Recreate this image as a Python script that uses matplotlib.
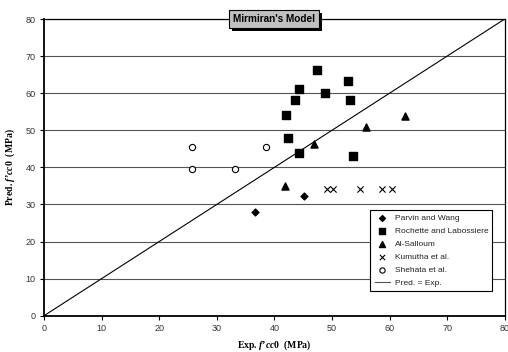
import numpy as np
import matplotlib.pyplot as plt
import matplotlib.patheffects as pe

plt.rcParams['font.family'] = ['Liberation Sans', 'DejaVu Sans']
plt.rcParams['mathtext.fontset'] = 'custom'
plt.rcParams['mathtext.it'] = 'Liberation Serif:italic:bold'
plt.rcParams['mathtext.rm'] = 'Liberation Serif:bold'

# dados (Exp., Pred.)
parvin_x = [36.6, 45.2]
parvin_y = [28.0, 32.3]

rochette_x = [47.4, 52.8, 44.3, 48.8, 43.6, 53.2, 42.0, 42.4, 44.3, 53.7]
rochette_y = [66.2, 63.3, 61.0, 60.0, 58.1, 58.1, 54.1, 47.9, 43.9, 43.0]

salloum_x = [41.8, 46.8, 55.9, 62.6]
salloum_y = [35.1, 46.3, 50.9, 53.8]

kumutha_x = [49.2, 50.1, 54.9, 58.7, 60.4]
kumutha_y = [34.2, 34.2, 34.2, 34.2, 34.2]

shehata_x = [25.7, 25.7, 33.2, 38.5]
shehata_y = [45.4, 39.5, 39.5, 45.5]

linha = [0, 80]

fig = plt.figure(figsize=(5.08, 3.52), dpi=100)
ax = fig.add_axes([0.0866, 0.103, 0.907, 0.843])

ax.scatter(parvin_x, parvin_y, marker='D', s=12, c='black', label='Parvin and Wang', zorder=3)
ax.scatter(rochette_x, rochette_y, marker='s', s=26, c='black', label='Rochette and Labossiere', zorder=3)
ax.scatter(salloum_x, salloum_y, marker='^', s=26, c='black', label='Al-Salloum', zorder=3)
ax.scatter(kumutha_x, kumutha_y, marker='x', s=20, c='black', linewidths=0.8, label='Kumutha et al.', zorder=3)
ax.scatter(shehata_x, shehata_y, marker='o', s=20, facecolors='white', edgecolors='black',
           linewidths=0.8, label='Shehata et al.', zorder=3)
ax.plot(linha, linha, color='black', lw=0.8, label='Pred. = Exp.', zorder=2)

ax.set_xlim(0, 80)
ax.set_ylim(0, 80)
ax.set_xticks(np.arange(0, 81, 10))
ax.set_yticks(np.arange(0, 81, 10))
ax.yaxis.grid(True, color='#555555', lw=0.8)
ax.set_axisbelow(True)
ax.tick_params(labelsize=6.5, labelcolor='#333333', length=3, width=0.8, direction='out', pad=3)

for lado in ['left', 'bottom']:
    ax.spines[lado].set_linewidth(1.3)
for lado in ['top', 'right']:
    ax.spines[lado].set_linewidth(0.9)

ax.set_xlabel("Exp. $\\mathit{f\u2019cc0}$  (MPa)", fontfamily='Liberation Serif',
              fontweight='bold', fontsize=7, labelpad=4)
ax.set_ylabel("Pred. $\\mathit{f\u2019cc0}$  (MPa)", fontfamily='Liberation Serif',
              fontweight='bold', fontsize=7, labelpad=6)

# caixa do titulo com sombra
titulo = ax.text(0.5, 1.0, "Mirmiran's Model", transform=ax.transAxes, ha='center', va='center',
                 fontsize=7.2, fontweight='bold', zorder=5,
                 bbox=dict(boxstyle='square,pad=0.4', lw=0.8, facecolor='#c0c0c0', edgecolor='black'))
titulo.get_bbox_patch().set_path_effects([
    pe.SimplePatchShadow(offset=(1.8, -1.8), shadow_rgbFace='black', alpha=1.0),
    pe.Normal()])

leg = ax.legend(loc='lower right', bbox_to_anchor=(0.973, 0.083), fontsize=6.0, frameon=True,
                fancybox=False, edgecolor='black', framealpha=1, borderpad=0.5,
                labelspacing=0.62, handlelength=1.9, handletextpad=0.5, borderaxespad=0,
                markerscale=0.85)
leg.get_frame().set_linewidth(0.8)
leg.get_lines()[0].set_color('#555555')
for t in leg.get_texts():
    t.set_color('#222222')

fig.savefig('out.png', dpi=100)
